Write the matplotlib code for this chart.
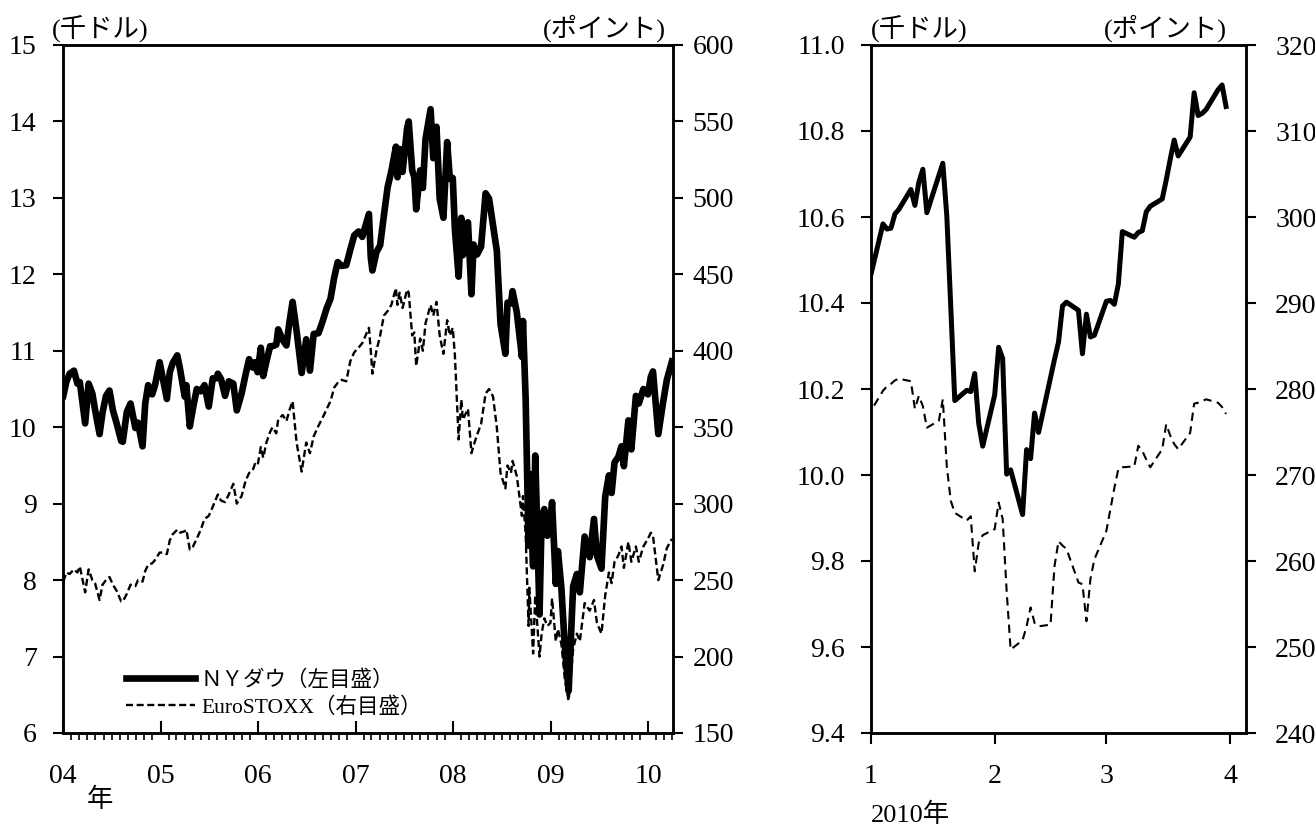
import matplotlib
matplotlib.use('Agg')
import matplotlib.pyplot as plt
import matplotlib.dates as mdates
import pandas as pd

plt.rcParams['font.family'] = ['Liberation Serif', 'Noto Sans CJK JP']

# ---- left panel: 2004 - 2010 (Dow in thousand dollars, EuroSTOXX in points)
long_dates = [
    '2004-01-02', '2004-01-14', '2004-01-26', '2004-02-11', '2004-02-24', '2004-03-04', '2004-03-24',
    '2004-04-06', '2004-04-20', '2004-04-30', '2004-05-17', '2004-05-28', '2004-06-10', '2004-06-23',
    '2004-07-06', '2004-07-20', '2004-08-06', '2004-08-12', '2004-08-27', '2004-09-10', '2004-09-28',
    '2004-10-08', '2004-10-25', '2004-11-04', '2004-11-15', '2004-11-30', '2004-12-10', '2004-12-28',
    '2005-01-10', '2005-01-24', '2005-02-04', '2005-02-15', '2005-03-04', '2005-03-15', '2005-04-01',
    '2005-04-07', '2005-04-20', '2005-05-02', '2005-05-16', '2005-05-31', '2005-06-14', '2005-06-30',
    '2005-07-15', '2005-07-29', '2005-08-03', '2005-08-15', '2005-08-30', '2005-09-13', '2005-09-30',
    '2005-10-13', '2005-10-31', '2005-11-15', '2005-11-28', '2005-12-12', '2005-12-20', '2005-12-30',
    '2006-01-11', '2006-01-20', '2006-02-01', '2006-02-15', '2006-02-24', '2006-03-10', '2006-03-17',
    '2006-04-03', '2006-04-17', '2006-04-28', '2006-05-10', '2006-05-25', '2006-06-13', '2006-06-30',
    '2006-07-14', '2006-07-28', '2006-08-15', '2006-08-30', '2006-09-15', '2006-09-29', '2006-10-13',
    '2006-10-26', '2006-11-10', '2006-11-27', '2006-12-12', '2006-12-27', '2007-01-12', '2007-01-26',
    '2007-02-20', '2007-02-27', '2007-03-05', '2007-03-20', '2007-04-03', '2007-04-17', '2007-05-01',
    '2007-05-15', '2007-06-01', '2007-06-07', '2007-06-15', '2007-06-26', '2007-07-13', '2007-07-19',
    '2007-08-01', '2007-08-09', '2007-08-16', '2007-08-31', '2007-09-10', '2007-09-20', '2007-10-09',
    '2007-10-19', '2007-10-31', '2007-11-12', '2007-11-26', '2007-12-10', '2007-12-20', '2007-12-31',
    '2008-01-08', '2008-01-22', '2008-02-01', '2008-02-07', '2008-02-26', '2008-03-10', '2008-03-18',
    '2008-03-31', '2008-04-15', '2008-05-02', '2008-05-15', '2008-05-30', '2008-06-13', '2008-06-27',
    '2008-07-15', '2008-07-23', '2008-08-05', '2008-08-11', '2008-08-27', '2008-09-15', '2008-09-19',
    '2008-09-29', '2008-10-10', '2008-10-13', '2008-10-27', '2008-11-04', '2008-11-20', '2008-11-28',
    '2008-12-08', '2008-12-19', '2008-12-31', '2009-01-06', '2009-01-20', '2009-01-28', '2009-02-10',
    '2009-02-23', '2009-03-09', '2009-03-26', '2009-04-09', '2009-04-20', '2009-05-08', '2009-05-27',
    '2009-06-12', '2009-06-23', '2009-07-10', '2009-07-24', '2009-08-07', '2009-08-17', '2009-08-28',
    '2009-09-11', '2009-09-23', '2009-10-02', '2009-10-19', '2009-10-30', '2009-11-16', '2009-11-27',
    '2009-12-14', '2009-12-31', '2010-01-11', '2010-01-19', '2010-02-08', '2010-02-26', '2010-03-12',
    '2010-03-31']

dow_long = [
    10.41, 10.60, 10.70, 10.74, 10.57, 10.59, 10.05,
    10.57, 10.44, 10.23, 9.91, 10.19, 10.41, 10.48,
    10.22, 10.05, 9.82, 9.81, 10.20, 10.31, 9.99,
    10.06, 9.75, 10.31, 10.55, 10.43, 10.54, 10.85,
    10.62, 10.37, 10.72, 10.84, 10.94, 10.75, 10.40,
    10.55, 10.01, 10.25, 10.50, 10.47, 10.55, 10.27,
    10.64, 10.64, 10.70, 10.63, 10.41, 10.60, 10.57,
    10.22, 10.44, 10.69, 10.89, 10.78, 10.85, 10.72,
    11.04, 10.67, 10.86, 11.06, 11.06, 11.08, 11.28,
    11.14, 11.07, 11.37, 11.64, 11.26, 10.71, 11.15,
    10.74, 11.22, 11.23, 11.38, 11.56, 11.68, 11.96,
    12.16, 12.11, 12.12, 12.32, 12.51, 12.56, 12.49,
    12.79, 12.22, 12.05, 12.29, 12.38, 12.77, 13.14,
    13.35, 13.67, 13.27, 13.64, 13.34, 13.91, 14.00,
    13.36, 13.27, 12.85, 13.36, 13.13, 13.77, 14.16,
    13.52, 13.93, 12.99, 12.74, 13.73, 13.25, 13.26,
    12.59, 11.97, 12.74, 12.25, 12.68, 11.74, 12.39,
    12.26, 12.36, 13.06, 12.99, 12.64, 12.31, 11.35,
    10.96, 11.63, 11.62, 11.78, 11.50, 10.92, 11.39,
    10.37, 8.45, 9.39, 8.18, 9.63, 7.55, 8.83,
    8.93, 8.58, 8.78, 9.02, 7.95, 8.38, 7.89,
    7.11, 6.55, 7.92, 8.08, 7.84, 8.57, 8.30,
    8.80, 8.32, 8.15, 9.09, 9.37, 9.14, 9.54,
    9.61, 9.75, 9.49, 10.09, 9.71, 10.41, 10.31,
    10.50, 10.43, 10.66, 10.73, 9.91, 10.33, 10.62,
    10.86]

euro_long = [
    249, 255, 254, 257, 255, 259, 242,
    257, 250, 248, 237, 247, 250, 252,
    247, 243, 236, 236, 241, 247, 246,
    250, 249, 256, 260, 261, 263, 268,
    268, 267, 276, 280, 283, 281, 282,
    283, 270, 272, 277, 283, 290, 292,
    298, 304, 306, 302, 301, 306, 313,
    300, 305, 315, 320, 322, 326, 325,
    337, 330, 340, 347, 350, 346, 355,
    358, 354, 361, 367, 340, 321, 340,
    333, 344, 351, 356, 362, 367, 376,
    379, 381, 380, 393, 399, 402, 405,
    415, 400, 385, 400, 410, 423, 426,
    430, 441, 430, 438, 428, 440, 438,
    410, 412, 390, 408, 400, 418, 430,
    423, 432, 410, 398, 420, 410, 415,
    397, 342, 368, 355, 362, 333, 338,
    345, 352, 372, 375, 370, 350, 320,
    310, 325, 320, 328, 318, 292, 305,
    280, 220, 245, 202, 240, 200, 215,
    225, 220, 222, 238, 210, 218, 208,
    185, 171, 205, 215, 210, 235, 230,
    237, 222, 215, 240, 255, 248, 262,
    266, 272, 258, 275, 262, 272, 262,
    272, 277, 281, 279, 250, 260, 271,
    277]

# ---- right panel: Jan - Mar 2010
dow_days = [
    '2009-12-31', '2010-01-04', '2010-01-05', '2010-01-06', '2010-01-07', '2010-01-08',
    '2010-01-11', '2010-01-12', '2010-01-13', '2010-01-14', '2010-01-15', '2010-01-19',
    '2010-01-20', '2010-01-21', '2010-01-22', '2010-01-25', '2010-01-26', '2010-01-27',
    '2010-01-28', '2010-01-29', '2010-02-01', '2010-02-02', '2010-02-03', '2010-02-04',
    '2010-02-05', '2010-02-08', '2010-02-09', '2010-02-10', '2010-02-11', '2010-02-12',
    '2010-02-16', '2010-02-17', '2010-02-18', '2010-02-19', '2010-02-22', '2010-02-23',
    '2010-02-24', '2010-02-25', '2010-02-26', '2010-03-01', '2010-03-02', '2010-03-03',
    '2010-03-04', '2010-03-05', '2010-03-08', '2010-03-09', '2010-03-10', '2010-03-11',
    '2010-03-12', '2010-03-15', '2010-03-16', '2010-03-17', '2010-03-18', '2010-03-19',
    '2010-03-22', '2010-03-23', '2010-03-24', '2010-03-25', '2010-03-26', '2010-03-29',
    '2010-03-30', '2010-03-31']
dow_short = [
    10.428, 10.584, 10.572, 10.574, 10.607, 10.618,
    10.664, 10.627, 10.681, 10.711, 10.610, 10.725,
    10.603, 10.390, 10.173, 10.197, 10.194, 10.236,
    10.120, 10.067, 10.186, 10.297, 10.271, 10.002,
    10.012, 9.908, 10.059, 10.038, 10.144, 10.099,
    10.269, 10.309, 10.393, 10.402, 10.383, 10.282,
    10.374, 10.321, 10.325, 10.404, 10.406, 10.397,
    10.444, 10.566, 10.553, 10.564, 10.568, 10.612,
    10.625, 10.642, 10.686, 10.734, 10.779, 10.742,
    10.786, 10.889, 10.836, 10.841, 10.850, 10.896,
    10.907, 10.857]

euro_days = [
    '2009-12-31', '2010-01-04', '2010-01-05', '2010-01-06', '2010-01-07', '2010-01-08',
    '2010-01-11', '2010-01-12', '2010-01-13', '2010-01-14', '2010-01-15', '2010-01-18',
    '2010-01-19', '2010-01-20', '2010-01-21', '2010-01-22', '2010-01-25', '2010-01-26',
    '2010-01-27', '2010-01-28', '2010-01-29', '2010-02-01', '2010-02-02', '2010-02-03',
    '2010-02-04', '2010-02-05', '2010-02-08', '2010-02-09', '2010-02-10', '2010-02-11',
    '2010-02-12', '2010-02-15', '2010-02-16', '2010-02-17', '2010-02-18', '2010-02-19',
    '2010-02-22', '2010-02-23', '2010-02-24', '2010-02-25', '2010-02-26', '2010-03-01',
    '2010-03-02', '2010-03-03', '2010-03-04', '2010-03-05', '2010-03-08', '2010-03-09',
    '2010-03-10', '2010-03-11', '2010-03-12', '2010-03-15', '2010-03-16', '2010-03-17',
    '2010-03-18', '2010-03-19', '2010-03-22', '2010-03-23', '2010-03-24', '2010-03-25',
    '2010-03-26', '2010-03-29', '2010-03-30', '2010-03-31']
euro_short = [
    276.7, 279.8, 280.3, 280.6, 281.0, 281.2,
    280.9, 277.7, 279.2, 278.0, 275.5, 276.3,
    278.8, 271.0, 267.0, 265.6, 264.7, 265.2,
    258.8, 262.1, 263.0, 263.7, 266.8, 264.9,
    256.5, 249.7, 250.8, 252.4, 254.6, 252.8,
    252.4, 252.6, 259.4, 262.3, 261.8, 261.4,
    257.5, 257.3, 253.0, 257.9, 260.2, 263.5,
    266.0, 268.5, 270.7, 270.9, 271.0, 273.4,
    272.8, 271.8, 270.9, 273.0, 275.9, 274.6,
    273.6, 273.0, 274.9, 278.3, 278.4, 278.6,
    278.8, 278.4, 277.9, 277.1]

year_labels = ['04', '05', '06', '07', '08', '09', '10']
month_labels = ['1', '2', '3', '4']

fs = 20
fig = plt.figure(figsize=(13.15, 8.3), dpi=100)

# ================= left panel
ax = fig.add_axes([63/1315, 1-733/830, 610/1315, 688/830])
ax2 = ax.twinx()
ld = pd.to_datetime(long_dates)
l1, = ax.plot(ld, dow_long, color='black', lw=4.8, solid_joinstyle='round', zorder=3)
l2, = ax2.plot(ld, euro_long, color='black', lw=1.7, linestyle=(0, (3, 1.5)))
ax.set_zorder(ax2.get_zorder() + 1)
ax.patch.set_visible(False)

ax.set_xlim(pd.Timestamp('2004-01-01'), pd.Timestamp('2010-04-04'))
ax.set_ylim(6, 15)
ax2.set_ylim(150, 600)
ax.set_yticks(range(6, 16))
ax2.set_yticks(range(150, 601, 50))
ax.xaxis.set_minor_locator(mdates.MonthLocator())
ax.set_xticks(pd.to_datetime(['%d-01-01' % y for y in range(2004, 2011)]))
ax.set_xticklabels(year_labels)
ax.tick_params(axis='x', which='major', direction='in', length=9, width=1.5, pad=22, labelsize=fs)
ax.tick_params(axis='x', which='minor', direction='out', length=5, width=1.2)
ax.tick_params(axis='y', direction='out', length=7, width=1.5, pad=12, labelsize=fs)
ax2.tick_params(axis='y', direction='out', length=7, width=1.5, pad=7, labelsize=fs)
for a in (ax, ax2):
    for s in a.spines.values():
        s.set_linewidth(1.8)

ax.text(-0.018, 1.005, '(千ドル)', transform=ax.transAxes, ha='left', va='bottom', fontsize=19)
ax.text(0.988, 1.005, '(ポイント)', transform=ax.transAxes, ha='right', va='bottom', fontsize=19)
fig.text(100/1315, 1-800/830, '年', ha='center', va='center', fontsize=19)

leg = ax.legend([l1, l2], ['ＮＹダウ（左目盛）', 'EuroSTOXX（右目盛）'], loc='lower left',
                bbox_to_anchor=(0.078, 0.0), frameon=False, fontsize=15.5,
                handlelength=3.2, handletextpad=0.3, labelspacing=0.3, borderpad=0.2)

# ================= right panel
bx = fig.add_axes([871/1315, 1-733/830, 375/1315, 688/830])
bx2 = bx.twinx()
bx.plot(pd.to_datetime(dow_days), dow_short, color='black', lw=3.6, zorder=3)
bx2.plot(pd.to_datetime(euro_days), euro_short, color='black', lw=1.5, linestyle=(0, (4, 2.6)))
bx.set_zorder(bx2.get_zorder() + 1)
bx.patch.set_visible(False)

bx.set_xlim(pd.Timestamp('2010-01-01'), pd.Timestamp('2010-04-05'))
bx.set_ylim(9.4, 11.0)
bx2.set_ylim(240, 320)
yt = [9.4, 9.6, 9.8, 10.0, 10.2, 10.4, 10.6, 10.8, 11.0]
bx.set_yticks(yt)
bx.set_yticklabels(['%.1f' % v for v in yt])
bx2.set_yticks(range(240, 321, 10))
bx.set_xticks(pd.to_datetime(['2010-01-01', '2010-02-01', '2010-03-01', '2010-04-01']))
bx.set_xticklabels(month_labels)
bx.tick_params(axis='x', direction='out', length=8, width=1.5, pad=14, labelsize=fs)
bx.tick_params(axis='y', direction='out', length=7, width=1.5, pad=12, labelsize=fs)
bx2.tick_params(axis='y', direction='out', length=7, width=1.5, pad=14, labelsize=fs)
for a in (bx, bx2):
    for s in a.spines.values():
        s.set_linewidth(1.8)

bx.text(0.0, 1.005, '(千ドル)', transform=bx.transAxes, ha='left', va='bottom', fontsize=19)
bx.text(0.95, 1.005, '(ポイント)', transform=bx.transAxes, ha='right', va='bottom', fontsize=19)
fig.text(871/1315, 1-815/830, '2010年', ha='left', va='center', fontsize=19)

fig.savefig('out.png', dpi=100)
